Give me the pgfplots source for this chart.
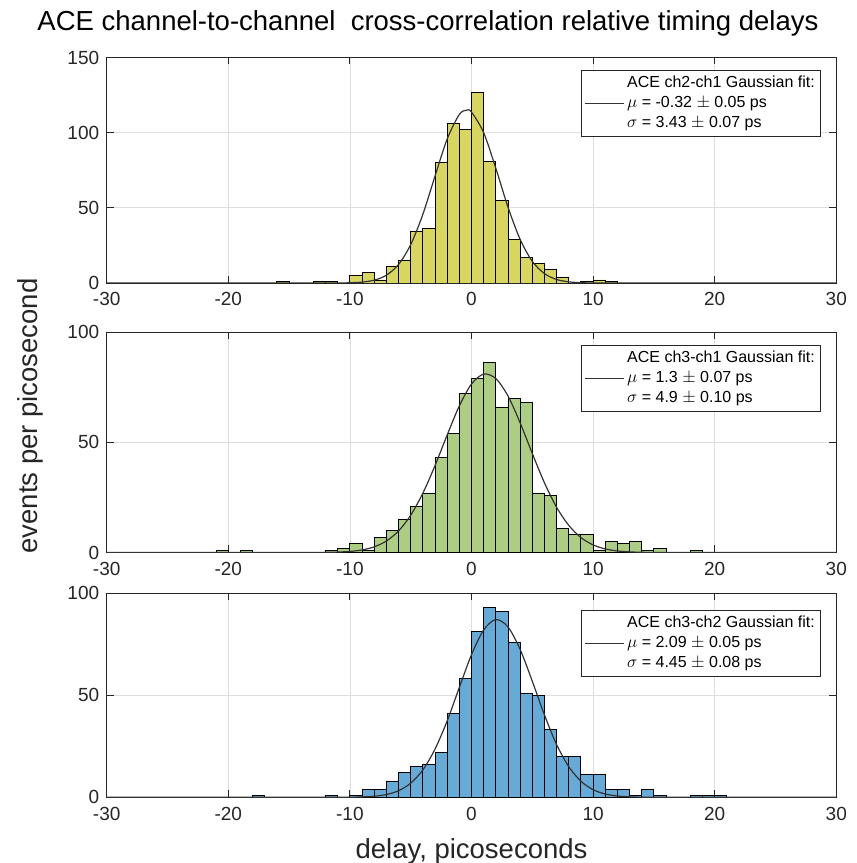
\documentclass[border=0pt]{standalone}
\usepackage{fontspec}
\setmainfont{Liberation Sans}
\usepackage{pgfplots}
\pgfplotsset{compat=1.18}
\definecolor{cTop}{HTML}{D8D65E}
\definecolor{cMid}{HTML}{ADCD83}
\definecolor{cBot}{HTML}{66AAD7}
\definecolor{axc}{HTML}{262626}
\pgfplotsset{legend image code/.code={\draw[#1] (0pt,0pt) -- (39pt,0pt);}}
\pgfplotsset{
  hist/.style={
    scale only axis, width=729.6pt,
    xmin=-30, xmax=30, ymin=0,
    xtick={-30,-20,...,30},
    xticklabels={-30,-20,-10,0,10,20,30},
    tick label style={font=\fontsize{19}{22}\selectfont, text=axc},
    xticklabel style={yshift=-6pt},
    yticklabel style={xshift=-4pt},
    grid=major, major grid style={draw=black!13, line width=0.7pt},
    axis line style={draw=axc, line width=0.9pt},
    tick style={draw=axc, line width=0.9pt},
    major tick length=7pt,
    tick align=inside,
    legend style={draw=axc, line width=0.9pt, fill=white,
      font=\fontsize{16}{20}\selectfont, anchor=north east,
      inner xsep=3pt, inner ysep=3pt, row sep=0pt,
      nodes={inner xsep=3pt, inner ysep=2pt, text height=12pt, text depth=4pt},
      cells={anchor=west}},
  },
  bars/.style={ybar interval, draw=black, line width=0.9pt, forget plot},
  fit/.style={smooth, draw=black!80, line width=1.2pt},
}
\begin{document}
\begin{tikzpicture}
\useasboundingbox (0,0) rectangle (857pt,863pt);
% ---------- top ----------
\begin{axis}[hist, at={(106.7pt,580pt)}, anchor=south west, height=225.5pt,
  ymax=150, ytick={0,50,100,150}, yticklabels={0,50,100,150},
  legend style={at={(0.9794,0.945)}}]
\addplot[bars, fill=cTop] coordinates {
(-16,1) (-15,0) (-14,0) (-13,1) (-12,1) (-11,0) (-10,5) (-9,7) (-8,2) (-7,11)
(-6,15) (-5,34) (-4,36) (-3,80) (-2,106) (-1,102) (0,127) (1,81) (2,55) (3,29)
(4,17) (5,13) (6,9) (7,4) (8,0) (9,1) (10,2) (11,1) (12,0)};
\addlegendimage{empty legend}
\addlegendentry{ACE ch2-ch1 Gaussian fit:}
\addplot[fit] coordinates {
(-30,0) (-16,0) (-11,0.04) (-10,0.16) (-9,0.59) (-8,1.88) (-7,5.18) (-6,12.3)
(-5,25.5) (-4,45.7) (-3,71.1) (-2,95.8) (-1,112.1) (-0.4,115.0) (0,113.7)
(1,100.0) (2,76.3) (3,50.5) (4,29.0) (5,14.4) (6,6.23) (7,2.33) (8,0.76)
(9,0.21) (10,0.05) (14,0) (30,0)};
\addlegendentry{$\mu$ = -0.32 $\pm$ 0.05 ps}
\addlegendimage{empty legend}
\addlegendentry{$\sigma$ = 3.43 $\pm$ 0.07 ps}
\end{axis}
% ---------- middle ----------
\begin{axis}[hist, at={(106.7pt,310.5pt)}, anchor=south west, height=220.5pt,
  ymax=100, ytick={0,50,100}, yticklabels={0,50,100},
  legend style={at={(0.9794,0.94)}}]
\addplot[bars, fill=cMid] coordinates {
(-21,1) (-20,0) (-19,1) (-18,0) (-17,0) (-16,0) (-15,0) (-14,0) (-13,0) (-12,1)
(-11,2) (-10,4) (-9,1) (-8,7) (-7,10) (-6,15) (-5,21) (-4,27) (-3,43) (-2,54)
(-1,72) (0,79) (1,86) (2,66) (3,70) (4,68) (5,27) (6,26) (7,11) (8,8) (9,8)
(10,1) (11,5) (12,4) (13,5) (14,1) (15,2) (16,0) (17,0) (18,1) (19,0)};
\addlegendimage{empty legend}
\addlegendentry{ACE ch3-ch1 Gaussian fit:}
\addplot[fit] coordinates {
(-30,0) (-16,0) (-12,0.07) (-11,0.19) (-10,0.48) (-9,1.16) (-8,2.56) (-7,5.21)
(-6,9.76) (-5,16.9) (-4,26.9) (-3,39.4) (-2,53.3) (-1,66.5) (0,76.4) (1,80.9)
(2,78.9) (3,71.0) (4,58.8) (5,44.9) (6,31.6) (7,20.5) (8,12.3) (9,6.76)
(10,3.44) (11,1.61) (12,0.69) (13,0.28) (14,0.10) (15,0.03) (19,0) (30,0)};
\addlegendentry{$\mu$ = 1.3 $\pm$ 0.07 ps}
\addlegendimage{empty legend}
\addlegendentry{$\sigma$ = 4.9 $\pm$ 0.10 ps}
\end{axis}
% ---------- bottom ----------
\begin{axis}[hist, at={(106.7pt,65.7pt)}, anchor=south west, height=204.3pt,
  ymax=100, ytick={0,50,100}, yticklabels={0,50,100},
  legend style={at={(0.9794,0.917)}}]
\addplot[bars, fill=cBot] coordinates {
(-18,1) (-17,0) (-16,0) (-15,0) (-14,0) (-13,0) (-12,1) (-11,0) (-10,1) (-9,4)
(-8,4) (-7,8) (-6,12) (-5,15) (-4,16) (-3,22) (-2,41) (-1,58) (0,81) (1,93)
(2,91) (3,76) (4,51) (5,50) (6,33) (7,20) (8,20) (9,11) (10,11) (11,4) (12,4)
(13,1) (14,4) (15,1) (16,0) (17,0) (18,1) (19,1) (20,1) (21,0)};
\addlegendimage{empty legend}
\addlegendentry{ACE ch3-ch2 Gaussian fit:}
\addplot[fit] coordinates {
(-30,0) (-14,0) (-10,0.055) (-9,0.18) (-8,0.51) (-7,1.35) (-6,3.21) (-5,6.91)
(-4,13.4) (-3,23.6) (-2,37.4) (-1,53.8) (0,69.8) (1,81.9) (2,87.0) (3,83.4)
(4,72.4) (5,56.8) (6,40.3) (7,25.8) (8,15.0) (9,7.85) (10,3.72) (11,1.59)
(12,0.62) (13,0.22) (14,0.07) (18,0) (30,0)};
\addlegendentry{$\mu$ = 2.09 $\pm$ 0.05 ps}
\addlegendimage{empty legend}
\addlegendentry{$\sigma$ = 4.45 $\pm$ 0.08 ps}
\end{axis}
% ---------- titles ----------
\node[anchor=base, font=\fontsize{27.5}{30}\selectfont, text=black] at (428pt,832.5pt)
  {ACE channel-to-channel\ \ cross-correlation relative timing delays};
\node[rotate=90, anchor=center, font=\fontsize{27.5}{30}\selectfont, text=axc] at (30pt,447pt)
  {events per picosecond};
\node[anchor=base, font=\fontsize{27.5}{30}\selectfont, text=axc] at (471.5pt,5pt)
  {delay, picoseconds};
\end{tikzpicture}
\end{document}
